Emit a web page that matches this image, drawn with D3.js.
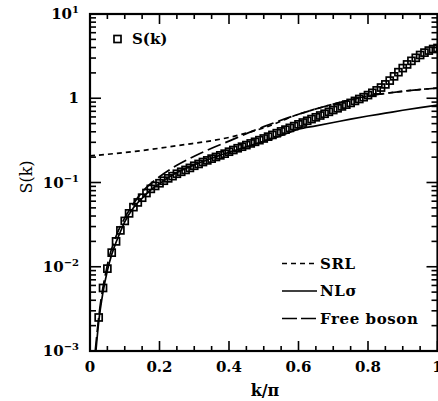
<!DOCTYPE html>
<html>
<head>
<meta charset="utf-8">
<script src="https://cdn.jsdelivr.net/npm/d3@7"></script>
<style>
  body { margin: 0; background: #fff; }
  text { font-family: "DejaVu Serif", serif; fill: #000; }
</style>
</head>
<body>
<div id="chart"></div>
<script>

// S(k) data points (open squares), k in units of pi
var kVals = [0.025, 0.0375, 0.05, 0.0625, 0.075, 0.0875, 0.1, 0.1125, 0.125, 0.1375,
  0.15, 0.1625, 0.175, 0.1875, 0.2, 0.2125, 0.225, 0.2375, 0.25, 0.2625,
  0.275, 0.2875, 0.3, 0.3125, 0.325, 0.3375, 0.35, 0.3625, 0.375, 0.3875,
  0.4, 0.4125, 0.425, 0.4375, 0.45, 0.4625, 0.475, 0.4875, 0.5, 0.5125,
  0.525, 0.5375, 0.55, 0.5625, 0.575, 0.5875, 0.6, 0.6125, 0.625, 0.6375,
  0.65, 0.6625, 0.675, 0.6875, 0.7, 0.7125, 0.725, 0.7375, 0.75, 0.7625,
  0.775, 0.7875, 0.8, 0.8125, 0.825, 0.8375, 0.85, 0.8625, 0.875, 0.8875,
  0.9, 0.9125, 0.925, 0.9375, 0.95, 0.9625, 0.975, 0.9875, 1.0];
var sVals = [0.0025, 0.0056, 0.0095, 0.0147, 0.020, 0.027, 0.035, 0.043, 0.051, 0.058,
  0.066, 0.075, 0.084, 0.091, 0.098, 0.105, 0.112, 0.119, 0.127, 0.134,
  0.141, 0.149, 0.158, 0.166, 0.175, 0.183, 0.192, 0.201, 0.210, 0.220,
  0.232, 0.243, 0.255, 0.266, 0.278, 0.291, 0.304, 0.318, 0.333, 0.350,
  0.367, 0.385, 0.404, 0.424, 0.445, 0.467, 0.49, 0.515, 0.54, 0.566,
  0.594, 0.624, 0.655, 0.69, 0.725, 0.76, 0.80, 0.84, 0.88, 0.93,
  0.98, 1.03, 1.09, 1.16, 1.24, 1.34, 1.46, 1.62, 1.82, 2.04,
  2.28, 2.52, 2.78, 3.02, 3.26, 3.48, 3.68, 3.84, 3.95];

// theory curves
var srlK = [0.0, 0.13, 0.257, 0.4, 0.5, 0.6, 0.7, 0.8, 0.9, 1.0];
var srlS = [0.207, 0.234, 0.276, 0.343, 0.445, 0.645, 0.85, 1.06, 1.21, 1.32];

var nlsK = [0.017, 0.025, 0.0375, 0.05, 0.0625, 0.075, 0.0875, 0.1, 0.125, 0.15, 0.175, 0.2,
  0.25, 0.3, 0.35, 0.4, 0.45, 0.5, 0.55, 0.6, 0.65, 0.7, 0.75, 0.8, 0.85, 0.9, 0.95, 1.0];
var nlsS = [0.001, 0.0022, 0.0050, 0.0090, 0.0140, 0.0195, 0.026, 0.034, 0.050, 0.065, 0.082, 0.097,
  0.131, 0.162, 0.194, 0.228, 0.266, 0.308, 0.36, 0.43, 0.47, 0.515, 0.565, 0.615, 0.665, 0.72, 0.775, 0.83];

var fbK = [0.015, 0.025, 0.05, 0.075, 0.1, 0.125, 0.15, 0.2, 0.25, 0.3, 0.35, 0.4, 0.45,
  0.5, 0.6, 0.7, 0.8, 0.9, 1.0];
var fbS = [0.001, 0.0025, 0.0105, 0.023, 0.038, 0.056, 0.077, 0.117, 0.160, 0.205, 0.255, 0.31, 0.38,
  0.46, 0.645, 0.85, 1.06, 1.21, 1.32];

var xTickVals = [0, 0.2, 0.4, 0.6, 0.8, 1.0];
var xTickLabels = ["0", "0.2", "0.4", "0.6", "0.8", "1"];
var yTickVals = [1e-3, 1e-2, 1e-1, 1, 10];
var yTickBase = ["10", "10", "10", "1", "10"];
var yTickExp = ["\u22123", "\u22122", "\u22121", "", "1"];

var legendNames = ["SRL", "NL\u03c3", "Free boson"];
var legendDash = ["5,4", null, "14,5"];

var W = 438, H = 401;
var plot = {left: 90, right: 437.5, top: 14, bottom: 351};

var svg = d3.select("#chart").append("svg")
  .attr("width", W).attr("height", H);

var x = d3.scaleLinear().domain([0, 1]).range([plot.left, plot.right]);
var y = d3.scaleLog().domain([1e-3, 10]).range([plot.bottom, plot.top]);

// minor tick values
var xMinor = d3.range(0, 1.0001, 0.05).filter(function(v) { return Math.abs(v*5 - Math.round(v*5)) > 1e-6; });
var yMinor = [];
[1e-3, 1e-2, 1e-1, 1].forEach(function(d) {
  for (var m = 2; m <= 9; m++) yMinor.push(d*m);
});

function tickLines(g, vals, scale, orient, len) {
  g.selectAll("line.t" + orient + len)
    .data(vals)
    .enter()
    .append("line")
      .attr("x1", function(d) { return orient == "b" || orient == "t" ? scale(d) : (orient == "l" ? plot.left : plot.right); })
      .attr("x2", function(d) { return orient == "b" || orient == "t" ? scale(d) : (orient == "l" ? plot.left + len : plot.right - len); })
      .attr("y1", function(d) { return orient == "l" || orient == "r" ? scale(d) : (orient == "b" ? plot.bottom : plot.top); })
      .attr("y2", function(d) { return orient == "l" || orient == "r" ? scale(d) : (orient == "b" ? plot.bottom - len : plot.top + len); })
      .attr("stroke", "#000")
      .attr("stroke-width", 1.6);
}

var axes = svg.append("g");
tickLines(axes, xTickVals, x, "b", 10);
tickLines(axes, xMinor, x, "b", 5);
tickLines(axes, xTickVals, x, "t", 10);
tickLines(axes, xMinor, x, "t", 5);
tickLines(axes, yTickVals, y, "l", 11);
tickLines(axes, yMinor, y, "l", 6);
tickLines(axes, yTickVals, y, "r", 11);
tickLines(axes, yMinor, y, "r", 6);

// frame
svg.append("rect")
  .attr("x", plot.left).attr("y", plot.top)
  .attr("width", plot.right - plot.left).attr("height", plot.bottom - plot.top)
  .attr("fill", "none").attr("stroke", "#000").attr("stroke-width", 2.2);

// x tick labels
svg.selectAll("text.xlab")
  .data(xTickVals)
  .enter()
  .append("text")
    .attr("class", "xlab")
    .attr("x", function(d) { return x(d); })
    .attr("y", 372)
    .attr("text-anchor", "middle")
    .style("font-size", "15px")
    .style("font-weight", "bold")
    .text(function(d, i) { return xTickLabels[i]; });

// y tick labels with superscripts
var ylab = svg.selectAll("text.ylab")
  .data(yTickVals)
  .enter()
  .append("text")
    .attr("class", "ylab")
    .attr("x", 79)
    .attr("y", function(d) { return y(d) + 5; })
    .attr("text-anchor", "end")
    .style("font-size", "15px")
    .style("font-weight", "bold");
ylab.append("tspan").text(function(d, i) { return yTickBase[i]; });
ylab.append("tspan")
  .attr("dy", -6)
  .style("font-size", "10px")
  .text(function(d, i) { return yTickExp[i]; });

// axis titles
svg.append("text")
  .attr("transform", "translate(32," + 177 + ") rotate(-90)")
  .attr("text-anchor", "middle")
  .style("font-size", "16px")
  .text("S(k)");

svg.append("text")
  .attr("x", 265).attr("y", 396)
  .attr("text-anchor", "middle")
  .style("font-size", "16px")
  .style("font-weight", "bold")
  .text("k/\u03c0");

// curves
var line = d3.line()
  .x(function(d) { return x(d[0]); })
  .y(function(d) { return y(d[1]); })
  .curve(d3.curveMonotoneX);

var curves = [
  {k: srlK, s: srlS, dash: legendDash[0]},
  {k: nlsK, s: nlsS, dash: legendDash[1]},
  {k: fbK, s: fbS, dash: legendDash[2]}
];

svg.append("clipPath").attr("id", "clip")
  .append("rect")
    .attr("x", plot.left).attr("y", plot.top)
    .attr("width", plot.right - plot.left).attr("height", plot.bottom - plot.top);

var pg = svg.append("g").attr("clip-path", "url(#clip)");

pg.selectAll("path.curve")
  .data(curves)
  .enter()
  .append("path")
    .attr("class", "curve")
    .attr("d", function(c) { return line(c.k.map(function(k, i) { return [k, c.s[i]]; })); })
    .attr("fill", "none")
    .attr("stroke", "#000")
    .attr("stroke-width", 1.7)
    .attr("stroke-dasharray", function(c) { return c.dash; });

// data squares
var sq = 7;
pg.selectAll("rect.pt")
  .data(kVals)
  .enter()
  .append("rect")
    .attr("class", "pt")
    .attr("x", function(d) { return x(d) - sq/2; })
    .attr("y", function(d, i) { return y(sVals[i]) - sq/2; })
    .attr("width", sq).attr("height", sq)
    .attr("fill", "none")
    .attr("stroke", "#000")
    .attr("stroke-width", 1.7);

// top-left legend
svg.append("rect")
  .attr("x", 114).attr("y", 35.5).attr("width", 7).attr("height", 7)
  .attr("fill", "none").attr("stroke", "#000").attr("stroke-width", 1.7);
svg.append("text")
  .attr("x", 132).attr("y", 44)
  .style("font-size", "15px")
  .style("font-weight", "bold")
  .text("S(k)");

// bottom-right legend
var leg = svg.selectAll("g.leg")
  .data(legendNames)
  .enter()
  .append("g")
    .attr("class", "leg")
    .attr("transform", function(d, i) { return "translate(0," + (263.5 + i*27.5) + ")"; });

leg.append("line")
  .attr("x1", 282).attr("x2", 317)
  .attr("y1", 0).attr("y2", 0)
  .attr("stroke", "#000")
  .attr("stroke-width", 1.7)
  .attr("stroke-dasharray", function(d, i) { return i == 2 ? "15,4" : legendDash[i]; });

leg.append("text")
  .attr("x", 320).attr("y", 5)
  .style("font-size", "15px")
  .style("font-weight", "bold")
  .style("letter-spacing", "0.6px")
  .text(function(d) { return d; });

</script>
</body>
</html>
